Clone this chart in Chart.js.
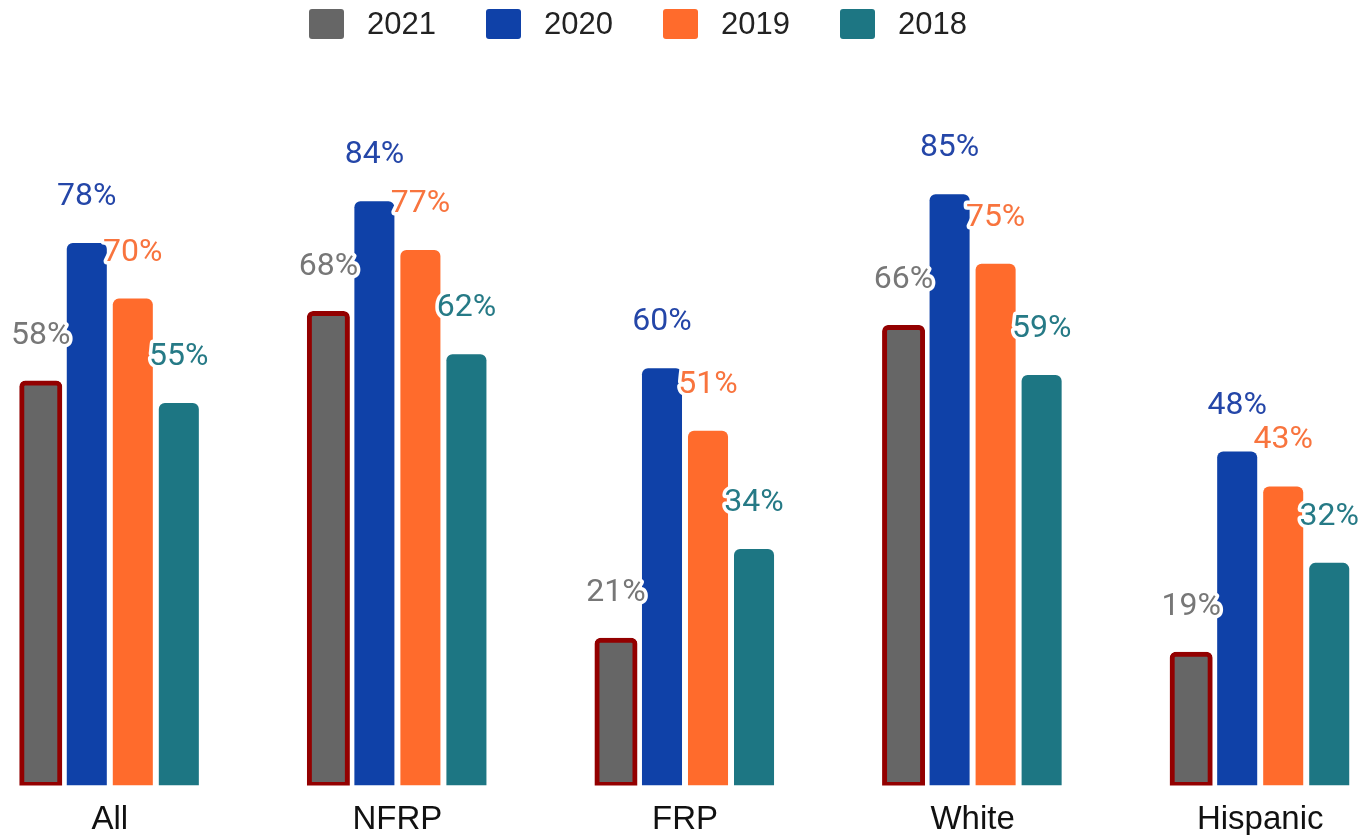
<!DOCTYPE html>
<html>
<head>
<meta charset="utf-8">
<script src="https://cdn.jsdelivr.net/npm/chart.js@4"></script>
<style>
    html, body { margin: 0; padding: 0; background: #fff; overflow: hidden; width: 1370px; height: 835px; }
    #wrap { position: absolute; left: -34px; top: 0; width: 1438px; height: 855px; }
    #legend { position: absolute; left: 309px; top: 9px; display: flex; font-family: "Liberation Sans", Arial, sans-serif; font-size: 31px; color: #222; }
    .item { display: flex; align-items: center; height: 30px; margin-right: 50px; }
    .swatch { width: 35px; height: 30px; border-radius: 3px; margin-right: 23px; }
</style>
</head>
<body>
<div id="wrap"><canvas id="chart" width="1438" height="855"></canvas></div>
<div id="legend"></div>
<script>
const categories = ['All', 'NFRP', 'FRP', 'White', 'Hispanic'];
const years = ['2021', '2020', '2019', '2018'];
const values2021 = [58, 68, 21, 66, 19];
const values2020 = [78, 84, 60, 85, 48];
const values2019 = [70, 77, 51, 75, 43];
const values2018 = [55, 62, 34, 59, 32];

const barColors = ['#666666', '#0F41A8', '#FF6B2C', '#1D7683'];
const labelColors = ['#777777', '#2446A8', '#F8743E', '#267A86'];

// legend built from the same arrays
const legendEl = document.getElementById('legend');
years.forEach((y, i) => {
    legendEl.innerHTML += `<div class="item"><div class="swatch" style="background:${barColors[i]}"></div><span>${y}</span></div>`;
});

const valueLabels = {
    id: 'valueLabels',
    afterDatasetsDraw(chart) {
        const ctx = chart.ctx;
        ctx.save();
        ctx.font = '32px Roboto';
        ctx.textAlign = 'center';
        ctx.textBaseline = 'middle';
        ctx.lineJoin = 'round';
        chart.data.datasets.forEach((ds, i) => {
            chart.getDatasetMeta(i).data.forEach((bar, j) => {
                const txt = ds.data[j] + '%';
                const y = bar.y - 46;
                ctx.lineWidth = 7;
                ctx.strokeStyle = '#fff';
                ctx.strokeText(txt, bar.x, y);
                ctx.fillStyle = labelColors[i];
                ctx.fillText(txt, bar.x, y);
            });
        });
        ctx.restore();
    }
};

const seriesValues = [values2021, values2020, values2019, values2018];
const datasets = seriesValues.map((vals, i) => {
    const ds = {
        label: years[i],
        data: vals,
        backgroundColor: barColors[i],
        borderRadius: { topLeft: 6, topRight: 6, bottomLeft: 0, bottomRight: 0 },
        borderSkipped: false,
        borderWidth: 0,
        categoryPercentage: 0.64,
        barPercentage: 0.87
    };
    if (i === 0) {
        ds.borderWidth = 5;
        ds.borderColor = '#930000';
        ds.inflateAmount = 1.5;
    }
    return ds;
});

new Chart(document.getElementById('chart'), {
    type: 'bar',
    data: { labels: categories, datasets: datasets },
    options: {
        responsive: false,
        animation: false,
        devicePixelRatio: 1,
        layout: { padding: { top: 90, bottom: 0, left: 0, right: 0 } },
        plugins: { legend: { display: false }, tooltip: { enabled: false } },
        scales: {
            x: {
                grid: { display: false, drawTicks: false },
                border: { display: false },
                ticks: { color: '#111', padding: 15, font: { family: '"Liberation Sans", Arial, sans-serif', size: 33 } }
            },
            y: { display: false, min: 0, max: 100 }
        }
    },
    plugins: [valueLabels]
});
</script>
</body>
</html>
